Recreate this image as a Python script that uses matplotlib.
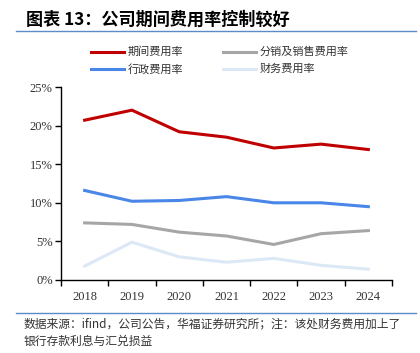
import numpy as np
import matplotlib.pyplot as plt
from matplotlib.lines import Line2D

years = ['2018', '2019', '2020', '2021', '2022', '2023', '2024']
period_rate = [20.7, 22.0, 19.2, 18.5, 17.1, 17.6, 16.9]
sales_rate = [7.4, 7.2, 6.2, 5.7, 4.6, 6.0, 6.4]
admin_rate = [11.6, 10.2, 10.3, 10.8, 10.0, 10.0, 9.5]
fin_rate = [1.8, 4.9, 3.0, 2.3, 2.8, 1.9, 1.4]

cjk = ['Noto Sans CJK SC', 'DejaVu Sans']
serif = ['Liberation Serif', 'DejaVu Serif']

fig = plt.figure(figsize=(4.2, 3.53), dpi=100)
W, H = 420, 353
ax = fig.add_axes([61 / W, 1 - 280 / H, (392 - 61) / W, (280 - 87) / H])

x = np.arange(len(years))
ax.plot(x, period_rate, color='#C00000', lw=2.2)
ax.plot(x, sales_rate, color='#A6A6A6', lw=2.2)
ax.plot(x, admin_rate, color='#4A86E8', lw=2.2)
ax.plot(x, fin_rate, color='#DCE8F6', lw=2.2)

ax.set_xlim(-0.5, len(years) - 0.5)
ax.set_ylim(0, 25)
ax.set_yticks(range(0, 26, 5))
ax.set_yticklabels([f'{v}%' for v in range(0, 26, 5)], family=serif, fontsize=9, color='#333333')
ax.set_xticks(x)
ax.set_xticklabels(years, family=serif, fontsize=9, color='#333333')
ax.tick_params(axis='x', length=0, pad=8)
ax.set_xticks(np.arange(-0.5, len(years)), minor=True)
ax.tick_params(axis='x', which='minor', length=4, direction='out', width=1)
ax.tick_params(axis='y', length=4, direction='out', width=1, pad=2)
for s in ['top', 'right']:
    ax.spines[s].set_visible(False)
for s in ['left', 'bottom']:
    ax.spines[s].set_linewidth(1)
    ax.spines[s].set_color('black')

# title and separators
fig.text(26 / W, 1 - 20 / H, '图表 13：公司期间费用率控制较好', family=cjk, fontsize=12.3,
         fontweight='bold', va='center', ha='left')
fig.add_artist(Line2D([16 / W, 416 / W], [1 - 31 / H] * 2, color='#5B8BC9', lw=1))
fig.add_artist(Line2D([16 / W, 416 / W], [1 - 313 / H] * 2, color='#5B8BC9', lw=1))
fig.text(24 / W, 1 - 324 / H, '数据来源：ifind，公司公告，华福证券研究所；注：该处财务费用加上了',
         family=cjk, fontsize=8.5, va='center', ha='left', color='#333333')
fig.text(24 / W, 1 - 341 / H, '银行存款利息与汇兑损益',
         family=cjk, fontsize=8.5, va='center', ha='left', color='#333333')

# legend
legend_items = [('期间费用率', '#C00000', 91, 52), ('分销及销售费用率', '#A6A6A6', 223, 52),
                ('行政费用率', '#4A86E8', 91, 69), ('财务费用率', '#DCE8F6', 223, 69)]
for label, col, lx, ly in legend_items:
    fig.add_artist(Line2D([lx / W, (lx + 33) / W], [1 - ly / H] * 2, color=col, lw=2.2))
    fig.text((lx + 37) / W, 1 - ly / H, label, family=cjk, fontsize=8, va='center',
             ha='left', color='#333333')

fig.savefig('out.png', dpi=100)
